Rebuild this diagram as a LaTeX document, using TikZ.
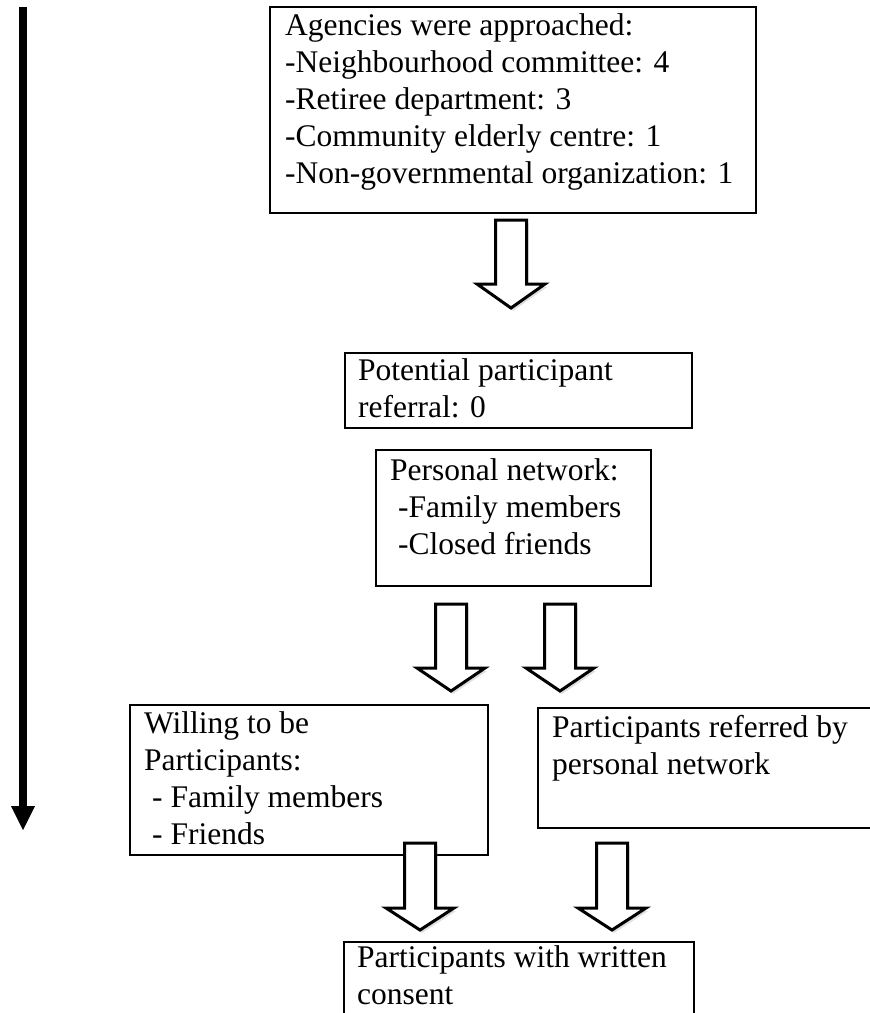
\documentclass[tikz,border=0pt]{standalone}
\usepackage{fontspec}
\setmainfont{Liberation Serif}
\usetikzlibrary{shadows}
\begin{document}
\begin{tikzpicture}[x=1pt,y=-1pt,
  box/.style={draw, line width=2pt, anchor=north west, inner sep=0pt},
  txt/.style={anchor=base west, align=left, inner sep=0pt, font=\fontsize{31.5}{37}\selectfont},
  blockarrow/.style={draw, line width=3pt, fill=white, line join=miter,
    drop shadow={opacity=0.25, shadow xshift=2pt, shadow yshift=-3pt, fill=gray}},
  timeline/.style={line width=8pt}]
\useasboundingbox (0,0) rectangle (870,1013);
\clip (0,0) rectangle (870,1013);

% boxes
\node[box, minimum width=486pt, minimum height=206pt] (agencies) at (269,6) {};
\node[box, minimum width=347pt, minimum height=75pt] (potential) at (344,352) {};
\node[box, minimum width=275pt, minimum height=136pt] (network) at (375,449) {};
\node[box, minimum width=358pt, minimum height=150pt] (willing) at (129,704) {};
\node[box, minimum width=345pt, minimum height=120pt] (referred) at (537,707) {};
\node[box, minimum width=350pt, minimum height=110pt] (consent) at (343,941) {};

% texts (anchored at the baseline of their last line)
\node[txt] (agenciesText) at (285,183) {Agencies were approached:\\-Neighbourhood committee: 4\\-Retiree department: 3\\-Community elderly centre: 1\\-Non-governmental organization: 1};
\node[txt] (potentialText) at (358,417) {Potential participant\\referral: 0};
\node[txt] (networkText) at (390,554) {Personal network:\\\hspace*{8pt}-Family members\\\hspace*{8pt}-Closed friends};
\node[txt] (willingText) at (144,844) {Willing to be\\Participants:\\\hspace*{8pt}- Family members\\\hspace*{8pt}- Friends};
\node[txt] (referredText) at (552,774) {Participants referred by\\personal network};
\node[txt] (consentText) at (357,1004) {Participants with written\\consent};

% block arrows
\newcommand{\blockarr}[4]{% cx, top, headstart, tip
  \draw[blockarrow] (#1-15.5,#2) -- (#1+15.5,#2) -- (#1+15.5,#3) -- (#1+34,#3)
    -- (#1,#4) -- (#1-34,#3) -- (#1-15.5,#3) -- cycle;}
\blockarr{511}{220}{284}{308}
\blockarr{451}{604}{668}{691}
\blockarr{560}{604}{668}{691}
\blockarr{420}{843}{908}{930}
\blockarr{612}{843}{908}{930}

% timeline arrow
\coordinate (tlStart) at (23,7);
\coordinate (tlEnd) at (23,808);
\draw[timeline] (tlStart) -- (tlEnd);
\fill (11,806) -- (35,806) -- (23,830) -- cycle;
\end{tikzpicture}
\end{document}
